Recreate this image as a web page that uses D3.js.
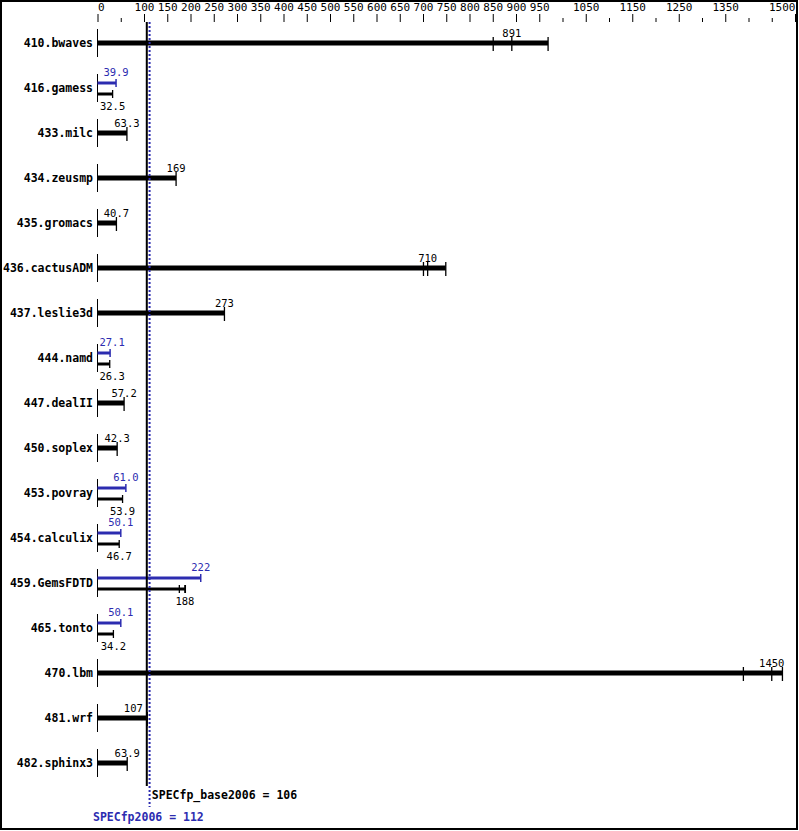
<!DOCTYPE html>
<html lang="en">
<head>
<meta charset="UTF-8">
<title>SPECfp2006</title>
<script src="https://cdn.jsdelivr.net/npm/d3@7"></script>
<style>
  body { margin: 0; background: #fff; }
  svg { display: block; }
  text { font-family: "DejaVu Sans Mono", monospace; }
</style>
</head>
<body>
<svg id="chart" width="799" height="831"></svg>
<script>
// benchmark names, scores, individual base runs
var benchmarks = ["410.bwaves","416.gamess","433.milc","434.zeusmp","435.gromacs","436.cactusADM",
  "437.leslie3d","444.namd","447.dealII","450.soplex","453.povray","454.calculix","459.GemsFDTD",
  "465.tonto","470.lbm","481.wrf","482.sphinx3"];
var baseScores = [891, 32.5, 63.3, 169, 40.7, 710, 273, 26.3, 57.2, 42.3, 53.9, 46.7, 188, 34.2, 1450, 107, 63.9];
var peakScores = [null, 39.9, null, null, null, null, null, 27.1, null, null, 61.0, 50.1, 222, 50.1, null, null, null];
var baseLabels = ["891","32.5","63.3","169","40.7","710","273","26.3","57.2","42.3","53.9","46.7","188","34.2","1450","107","63.9"];
var peakLabels = [null,"39.9",null,null,null,null,null,"27.1",null,null,"61.0","50.1","222","50.1",null,null,null];
var baseRuns = [[851, 891, 969],[32.5],[63.3],[169],[40.7],[701, 710, 749],[273],[26.3],[57.2],[42.3],
  [53.9],[46.7],[176, 188, 189],[34.2],[1389, 1450, 1473],[107],[63.9]];

var majorTicks = [0,100,150,200,250,300,350,400,450,500,550,600,650,700,750,800,850,900,950,1050,1150,1250,1350,1500];
var minorTicks = [50,1000,1100,1200,1300,1400,1450];

var specBase = 106, specPeak = 112;
var blue = "#2c2cb0";

var svg = d3.select("#chart");
var x = d3.scaleLinear().domain([0, 1500]).range([97.5, 795]);
var y = d3.scalePoint().domain(benchmarks).range([43, 763]);

// frame
svg.append("rect").attr("x", 1).attr("y", 1).attr("width", 796).attr("height", 828)
  .attr("fill", "#fff").attr("stroke", "#000").attr("stroke-width", 2);

// top axis
var axisMajor = d3.axisTop(x).tickValues(majorTicks).tickSize(8).tickPadding(3).tickFormat(d3.format("d"));
var gA = svg.append("g").attr("transform", "translate(0,22)").call(axisMajor);
var axisMinor = d3.axisTop(x).tickValues(minorTicks).tickSize(4).tickFormat("");
var gB = svg.append("g").attr("transform", "translate(0,22)").call(axisMinor);
[gA, gB].forEach(function(g){
  g.select(".domain").remove();
  g.selectAll("line").attr("stroke", "#000");
});
gA.selectAll("text").attr("font-size", "11px").attr("fill", "#000")
  .attr("font-family", "DejaVu Sans Mono, monospace")
  .attr("text-anchor", function(d, i){ return i == 0 ? "start" : (i == majorTicks.length-1 ? "end" : "middle"); });

var rows = svg.append("g").selectAll("g").data(benchmarks).enter().append("g")
  .attr("transform", function(d){ return "translate(0," + y(d) + ")"; });

rows.append("line").attr("x1", x(0)).attr("x2", x(0)).attr("y1", -14).attr("y2", 14)
  .attr("stroke", "#000").attr("stroke-width", 1);

rows.append("text").attr("x", 93).attr("y", 0).attr("dy", "0.35em")
  .attr("text-anchor", "end").attr("font-size", "11.5px").attr("font-weight", "bold")
  .text(function(d){ return d; });

// centre the label on the value, but keep it off the axis and the score lines
function labelX(v, txt){
  var w = txt.length * 6.3;
  var cx = Math.max(x(0) + 2 + w / 2, x(v));
  var lo = cx - w / 2, hi = cx + w / 2;
  if (lo < x(specPeak) + 2 && hi > x(specBase) - 2) cx = x(specBase) - 4 - w / 2;
  return cx;
}

rows.each(function(d, i){
  var g = d3.select(this);
  var runs = baseRuns[i];
  var maxRun = d3.max(runs);
  if (peakScores[i] == null) {
    // single thick base bar
    g.append("line").attr("x1", x(0)).attr("x2", x(maxRun)).attr("y1", 0).attr("y2", 0)
      .attr("stroke", "#000").attr("stroke-width", 5);
    runs.forEach(function(r){
      g.append("line").attr("x1", x(r)).attr("x2", x(r)).attr("y1", -6).attr("y2", 8)
        .attr("stroke", "#000").attr("stroke-width", 1.3);
    });
    g.append("text").attr("x", labelX(baseScores[i], baseLabels[i])).attr("y", -6)
      .attr("text-anchor", "middle").attr("font-size", "10.5px").text(baseLabels[i]);
  } else {
    // peak (blue) above, base (black) below
    g.append("line").attr("x1", x(0)).attr("x2", x(peakScores[i])).attr("y1", -5).attr("y2", -5)
      .attr("stroke", blue).attr("stroke-width", 3);
    g.append("line").attr("x1", x(peakScores[i])).attr("x2", x(peakScores[i])).attr("y1", -9).attr("y2", -1)
      .attr("stroke", blue).attr("stroke-width", 1.5);
    g.append("text").attr("x", labelX(peakScores[i], peakLabels[i])).attr("y", -12)
      .attr("text-anchor", "middle").attr("font-size", "10.5px").attr("fill", blue).text(peakLabels[i]);

    g.append("line").attr("x1", x(0)).attr("x2", x(maxRun)).attr("y1", 6).attr("y2", 6)
      .attr("stroke", "#000").attr("stroke-width", 3);
    runs.forEach(function(r){
      g.append("line").attr("x1", x(r)).attr("x2", x(r)).attr("y1", 2).attr("y2", 10)
        .attr("stroke", "#000").attr("stroke-width", 1.3);
    });
    g.append("text").attr("x", labelX(baseScores[i], baseLabels[i])).attr("y", 21.5)
      .attr("text-anchor", "middle").attr("font-size", "10.5px").text(baseLabels[i]);
  }
});

// overall score lines
svg.append("line").attr("x1", x(specBase)).attr("x2", x(specBase)).attr("y1", 22).attr("y2", 786)
  .attr("stroke", "#000").attr("stroke-width", 2);
svg.append("line").attr("x1", x(specPeak)).attr("x2", x(specPeak)).attr("y1", 22).attr("y2", 807)
  .attr("stroke", blue).attr("stroke-width", 2).attr("stroke-dasharray", "2,2");

svg.append("text").attr("x", x(specBase) + 5).attr("y", 799)
  .attr("font-size", "11.5px").attr("font-weight", "bold").text("SPECfp_base2006 = " + specBase);
svg.append("text").attr("x", 93).attr("y", 821).attr("fill", blue)
  .attr("font-size", "11.5px").attr("font-weight", "bold").text("SPECfp2006 = " + specPeak);
</script>
</body>
</html>
